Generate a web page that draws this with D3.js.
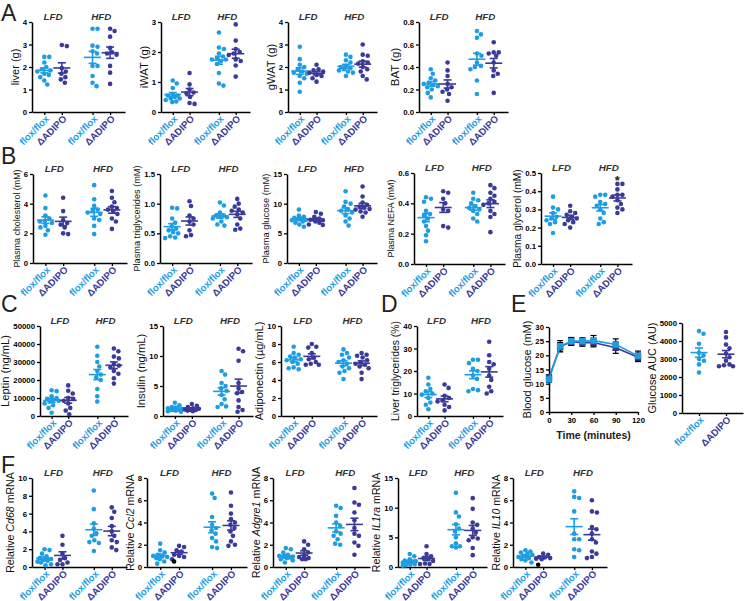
<!DOCTYPE html>
<html><head><meta charset="utf-8">
<script src="https://cdn.jsdelivr.net/npm/d3@7"></script>
<style>
body{margin:0;background:#fff;}
svg text{font-family:"Liberation Sans",Arial,sans-serif;}
</style></head><body>
<svg id="fig" width="745" height="601"></svg>
<script>
const genotypes = ["flox/flox","ΔADIPO","flox/flox","ΔADIPO"];
const diets = ["LFD","HFD"];
const FLOX = "#1E9DE2", DELTA = "#3B3A99";

// ---- Panel A ----
const liver = [
 [2.45,2.45,2.2,2.0,1.9,1.85,1.8,1.7,1.65,1.55,1.4,1.22],
 [2.98,2.93,1.95,1.8,1.7,1.55,1.45,1.3],
 [3.7,3.7,2.95,2.9,2.7,2.6,2.05,2.05,1.6,1.3,1.15],
 [3.7,3.6,3.35,2.85,2.65,2.6,2.55,2.05,1.75,1.25]];
const iwat = [
 [1.05,0.95,0.8,0.6,0.55,0.55,0.5,0.45,0.45,0.4,0.35,0.33],
 [1.3,0.92,0.75,0.65,0.62,0.5,0.3,0.27],
 [2.65,2.15,2.1,1.95,1.85,1.8,1.75,1.75,1.7,1.6,1.3,0.95,0.88],
 [2.92,2.38,2.1,2.0,1.95,1.9,1.75,1.7,1.55,1.18]];
const gwat = [
 [2.9,2.35,2.1,2.0,1.9,1.8,1.75,1.7,1.6,1.5,1.3,0.9],
 [2.1,1.9,1.85,1.8,1.75,1.65,1.6,1.5,1.35],
 [2.55,2.45,2.3,2.2,2.05,2.0,1.95,1.9,1.85,1.8,1.75,1.6],
 [3.0,2.55,2.5,2.25,2.2,2.15,2.0,1.9,1.8,1.6,1.45]];
const bat = [
 [0.38,0.34,0.3,0.28,0.26,0.25,0.24,0.23,0.22,0.2,0.17,0.13],
 [0.44,0.37,0.32,0.25,0.22,0.2,0.18,0.16,0.1],
 [0.72,0.69,0.66,0.52,0.5,0.44,0.41,0.4,0.38,0.28,0.16],
 [0.62,0.53,0.53,0.52,0.5,0.44,0.37,0.34,0.32,0.17]];
// ---- Panel B ----
const chol = [
 [4.55,3.7,3.2,3.0,2.85,2.8,2.7,2.5,2.4,2.2,1.9],
 [4.4,3.5,2.9,2.7,2.6,2.4,2.0,1.95],
 [5.25,4.3,3.85,3.6,3.5,3.4,3.3,3.0,2.9,2.5,1.95],
 [4.85,4.4,4.1,3.8,3.7,3.6,3.5,3.3,3.0,2.8,2.3]];
const tg = [
 [0.93,0.92,0.75,0.68,0.62,0.58,0.55,0.52,0.5,0.45,0.43,0.42],
 [1.04,0.96,0.8,0.75,0.7,0.65,0.55,0.47,0.45],
 [1.02,0.97,0.85,0.8,0.8,0.78,0.77,0.75,0.7,0.65,0.63],
 [1.08,1.0,0.95,0.9,0.88,0.85,0.82,0.75,0.65,0.58,0.56]];
const glu = [
 [9.0,8.0,7.8,7.6,7.5,7.4,7.3,7.2,7.0,6.8,6.5,6.1],
 [8.6,8.3,7.8,7.5,7.3,7.2,7.0,6.8,6.5,6.4],
 [12.1,10.3,10.0,9.5,9.0,8.8,8.5,8.0,7.5,7.0,6.3],
 [12.9,11.2,10.2,9.8,9.5,9.3,9.1,9.0,8.7,8.5,7.8]];
const nefa = [
 [0.44,0.43,0.41,0.35,0.33,0.32,0.3,0.28,0.25,0.22,0.19,0.15],
 [0.48,0.47,0.43,0.4,0.36,0.35,0.25,0.24],
 [0.47,0.43,0.42,0.4,0.38,0.37,0.36,0.35,0.33,0.3,0.28],
 [0.52,0.5,0.47,0.45,0.43,0.41,0.4,0.39,0.35,0.33,0.31,0.21]];
const glycerol = [
 [0.37,0.31,0.3,0.28,0.26,0.25,0.24,0.23,0.22,0.17],
 [0.32,0.29,0.28,0.27,0.26,0.25,0.24,0.23,0.22,0.2],
 [0.38,0.38,0.37,0.34,0.33,0.32,0.3,0.28,0.25,0.23,0.22],
 [0.44,0.44,0.41,0.38,0.38,0.37,0.35,0.33,0.31,0.3,0.28]];
// ---- Panel C ----
const leptin = [
 [14300,13800,11000,10000,9500,9000,8500,8000,7000,6000,4500,1800],
 [17000,14000,12500,10000,9500,8500,7000,4500,3000,1000],
 [38500,33500,30000,27500,25000,23000,21500,20000,15000,11000,8000],
 [37500,36000,33000,32000,29000,28000,27000,25000,23500,21000,18000]];
const insulin = [
 [2.2,1.8,1.5,1.4,1.3,1.2,1.1,1.0,1.0,0.9,0.8,0.7],
 [2.0,1.7,1.5,1.3,1.2,1.1,1.0,1.0,0.9,0.8],
 [7.5,6.9,5.5,5.0,4.6,4.2,3.5,2.8,2.0,1.6,1.5],
 [11.2,10.8,9.2,5.5,4.6,4.0,3.8,2.6,1.5,1.0,0.7]];
const adipo = [
 [7.7,7.0,6.8,6.6,6.5,6.3,6.2,6.0,5.8,5.4,5.3,5.2],
 [8.0,7.7,7.6,7.0,6.5,6.3,6.0,5.8,5.7,5.7],
 [7.4,7.0,6.8,6.5,6.2,6.0,5.8,5.5,5.3,5.0,4.8,4.1],
 [7.0,6.8,6.7,6.5,6.2,6.0,5.8,5.7,5.5,5.3,4.8,4.1]];
// ---- Panel D ----
const liverTG = [
 [17,14,12,11,10,9.5,8,6,5,3],
 [14,12.5,9,8,7,6.5,5,4,2.5],
 [25,25,23.5,21,20,18,16.5,12,11.5,11],
 [33,27,24,23,21,18,16,13,11,10]];
// ---- Panel E ----
const gttTime = [0,15,30,45,60,90,120];
const gttFlox = [11.5,23.2,25.0,25.0,25.2,23.8,19.8];
const gttFloxSem = [1.0,2.0,1.3,1.2,1.8,2.0,1.7];
const gttDelta = [12.2,23.0,24.8,24.5,24.5,22.7,19.3];
const gttDeltaSem = [1.0,1.5,1.3,1.3,1.5,2.0,1.5];
const gttTicksX = [0,30,60,90,120];
const gttTicksY = [0,5,10,15,20,25,30];
const auc = [
 [4550,4400,3850,3350,3200,3000,2900,2700,2250],
 [4500,4200,3800,3600,3300,3100,2900,2700,2650,2600,2600]];
// ---- Panel F ----
const cd68 = [
 [2.0,1.9,1.5,1.2,1.0,0.9,0.8,0.7,0.6,0.5,0.3,0.2],
 [3.5,2.5,1.5,1.0,0.8,0.5,0.3,0.3],
 [8.6,6.5,4.9,4.3,3.8,3.5,3.0,2.8,2.7,1.8],
 [6.7,6.2,5.5,4.6,4.0,3.5,3.0,2.8,2.2,1.9]];
const ccl2 = [
 [2.1,1.5,1.3,1.1,1.0,0.95,0.9,0.8,0.7,0.5,0.3],
 [1.9,1.8,1.5,1.4,1.1,1.0,0.9,0.7],
 [6.6,6.2,4.5,3.8,3.5,3.3,3.0,2.6,2.3,1.8,1.7],
 [6.7,5.5,4.8,4.3,4.0,3.8,3.5,3.2,2.8,2.3,2.0,1.9]];
const adgre1 = [
 [1.7,1.6,1.3,1.1,1.0,0.95,0.9,0.85,0.8,0.7,0.6,0.4],
 [2.3,2.0,1.6,1.3,1.0,0.9,0.8,0.7,0.7],
 [5.5,5.3,4.6,4.0,3.7,3.2,3.0,2.8,2.5,2.1,2.0],
 [7.1,5.8,5.6,4.9,4.2,3.5,3.0,2.8,2.2,1.9,1.1]];
const il1ra = [
 [2.2,1.8,1.3,1.1,1.0,0.9,0.8,0.7,0.5,0.4,0.3,0.2],
 [3.5,2.2,1.8,1.5,1.3,1.0,0.6,0.5,0.5],
 [12.5,9.2,8.5,7.2,6.5,6.0,5.0,4.0,3.5,3.5,3.3],
 [11.6,9.8,7.5,7.1,6.5,5.8,5.0,4.8,4.5,3.2,2.0]];
const il10 = [
 [1.5,1.4,1.3,1.2,1.1,1.0,0.9,0.8,0.7,0.6,0.4],
 [1.2,1.1,0.9,0.85,0.8,0.75,0.7],
 [6.8,6.3,6.2,5.0,3.0,2.5,2.5,1.6,1.5,0.9],
 [6.0,5.0,4.9,3.6,3.4,3.0,2.5,2.2,1.4,1.2,0.9,0.8]];
// black (excluded) points
const blackDots = [{panel:"ccl2", group:1, value:0.5}, {panel:"il10", group:1, value:0.2}];
const stars = [{panel:"glycerol", group:3}];

const svg = d3.select("#fig");

const panels = [
 {id:"liver", data:liver, label:"liver (g)", ticks:[0,1,2,3,4], fmt:"d", x0:32,x1:125,top:22,bottom:112, lfs:11},
 {id:"iwat", data:iwat, label:"iWAT (g)", ticks:[0,1,2,3], fmt:"d", x0:161,x1:250,top:22,bottom:112, lfs:11.2},
 {id:"gwat", data:gwat, label:"gWAT (g)", ticks:[0,1,2,3,4], fmt:"d", x0:288,x1:377,top:22,bottom:112, lfs:11.2},
 {id:"bat", data:bat, label:"BAT (g)", ticks:[0,0.2,0.4,0.6,0.8], fmt:".1f", x0:419,x1:508,top:22,bottom:112, lfs:11.5},
 {id:"chol", data:chol, label:"Plasma cholesterol (mM)", ticks:[0,2,4,6], fmt:"d", x0:33,x1:127,top:174,bottom:263, lfs:8.9},
 {id:"tg", data:tg, label:"Plasma triglycerides (mM)", ticks:[0,0.5,1.0,1.5], fmt:".1f", x0:160,x1:252,top:174,bottom:263, lfs:9.2},
 {id:"glu", data:glu, label:"Plasma glucose (mM)", ticks:[0,5,10,15], fmt:"d", x0:287,x1:377,top:174,bottom:263, lfs:9.3},
 {id:"nefa", data:nefa, label:"Plasma NEFA (mM)", ticks:[0,0.2,0.4,0.6], fmt:".1f", x0:414,x1:505,top:173,bottom:264, lfs:8.9},
 {id:"glycerol", data:glycerol, label:"Plasma glycerol (mM)", ticks:[0,0.1,0.2,0.3,0.4,0.5], fmt:".1f", x0:541,x1:632,top:173,bottom:264, lfs:10.2},
 {id:"leptin", data:leptin, label:"Leptin (ng/mL)", ticks:[0,10000,20000,30000,40000,50000], fmt:"d", x0:40,x1:128,top:326,bottom:416, lfs:11.2},
 {id:"insulin", data:insulin, label:"Insulin (ng/mL)", ticks:[0,5,10,15], fmt:"d", x0:163,x1:253,top:326,bottom:416, lfs:11.3},
 {id:"adipo", data:adipo, label:"Adiponectin (µg/mL)", ticks:[0,2,4,6,8,10], fmt:"d", x0:281,x1:377,top:326,bottom:416, lfs:11},
 {id:"livertg", data:liverTG, label:"Liver triglycerides (%)", ticks:[0,10,20,30,40], fmt:"d", x0:417,x1:503,top:326,bottom:416, lfs:10.4},
 {id:"auc", data:auc, label:"Glucose AUC (AU)", ticks:[0,1000,2000,3000,4000,5000], fmt:"d", x0:682,x1:743,top:323,bottom:413, lfs:10.9},
 {id:"cd68", data:cd68, label:"Relative *Cd68* mRNA", ticks:[0,2,4,6,8,10], fmt:"d", x0:32,x1:127,top:478,bottom:567, lfs:10.6},
 {id:"ccl2", data:ccl2, label:"Relative *Ccl2* mRNA", ticks:[0,2,4,6,8], fmt:"d", x0:147,x1:247,top:478,bottom:567, lfs:10.6},
 {id:"adgre1", data:adgre1, label:"Relative *Adgre1* mRNA", ticks:[0,2,4,6,8], fmt:"d", x0:273,x1:370,top:478,bottom:567, lfs:10.8},
 {id:"il1ra", data:il1ra, label:"Relative *IL1ra* mRNA", ticks:[0,5,10,15], fmt:"d", x0:398,x1:487,top:478,bottom:567, lfs:10.6},
 {id:"il10", data:il10, label:"Relative *IL10* mRNA", ticks:[0,2,4,6,8], fmt:"d", x0:513,x1:607,top:478,bottom:567, lfs:10.6}
];

const letters = [["A",1,21],["B",1,164],["C",1,312],["D",381,312],["E",511,312],["F",1,473]];
letters.forEach(([t,x,y])=>svg.append("text").attr("x",x).attr("y",y).attr("font-size",23).attr("fill","#222").text(t));

function styleAxis(a){
  a.select(".domain").attr("stroke","#000").attr("stroke-width",1.5);
  a.selectAll(".tick line").attr("stroke","#000").attr("stroke-width",1.3);
  a.selectAll(".tick text").attr("font-size",7.8).attr("font-weight","bold").attr("fill","#000");
}

function yLabel(g, p, tickW){
  const bx = p.x0 - 3 - 2 - tickW - 4;
  const cy = (p.top + p.bottom)/2;
  const t = g.append("text").attr("transform",`translate(${bx},${cy}) rotate(-90)`)
    .attr("text-anchor","middle").attr("font-size",p.lfs).attr("fill","#111");
  p.label.split("*").forEach((s,i)=>{ if(s) t.append("tspan").attr("font-style", i%2 ? "italic":"normal").text(s); });
}

function swarm(vals, y, r, maxOff){
  const placed = [];
  const sorted = vals.slice().sort((a,b)=>b-a);
  const need = (2*r+0.3)**2;
  for(const v of sorted){
    const py = y(v);
    let best = 0, bestD = -1;
    for(let k=0;k<200;k++){
      const c = k===0 ? 0 : (k%2 ? 1 : -1) * Math.ceil(k/2) * 0.5;
      if(Math.abs(c) > maxOff) break;
      const dmin = placed.length ? d3.min(placed, q => (q.x-c)**2 + (q.y-py)**2) : Infinity;
      if(dmin >= need){ best = c; bestD = dmin; break; }
      if(dmin > bestD){ bestD = dmin; best = c; }
    }
    placed.push({x:best, y:py, v});
  }
  return placed;
}

function drawCat(p){
  const g = svg.append("g");
  const n = p.data.length;
  const y = d3.scaleLinear().domain([p.ticks[0], p.ticks[p.ticks.length-1]]).range([p.bottom, p.top]);
  const pos = n===4 ? [0,1,2.75,3.75] : [0,1];
  const x = d3.scaleLinear().domain(n===4 ? [-0.7,4.6] : [-0.63,1.63]).range([p.x0, p.x1]);
  const ya = g.append("g").attr("transform",`translate(${p.x0},0)`)
    .call(d3.axisLeft(y).tickValues(p.ticks).tickFormat(d3.format(p.fmt)).tickSize(3).tickSizeOuter(0).tickPadding(2));
  styleAxis(ya);
  const tickW = d3.max(ya.selectAll(".tick text").nodes(), nd => nd.getComputedTextLength());
  yLabel(g, p, tickW);
  const xa = g.append("g").attr("transform",`translate(0,${p.bottom})`)
    .call(d3.axisBottom(x).tickValues(pos).tickFormat((d,i)=>genotypes[i]).tickSize(3).tickSizeOuter(0));
  styleAxis(xa);
  xa.selectAll(".tick text").attr("font-size",9.7).attr("y",0).attr("dy","0.35em")
    .attr("transform","translate(2.5,5) rotate(-45)").attr("text-anchor","end")
    .attr("fill",(d,i)=> i%2 ? DELTA : FLOX);
  if(n===4){
    [0.5,3.25].forEach((c,i)=> g.append("text").attr("x",x(c)).attr("y",p.top-2)
      .attr("text-anchor","middle").attr("font-size",9.8).attr("font-weight","bold")
      .attr("font-style","italic").attr("fill","#333").text(diets[i]));
  }
  p.data.forEach((vals,i)=>{
    const col = i%2 ? DELTA : FLOX;
    const cx = x(pos[i]);
    swarm(vals, y, 2.3, 7).forEach(pt=> g.append("circle").attr("cx",cx+pt.x).attr("cy",pt.y).attr("r",2.3).attr("fill",col));
    blackDots.filter(b=>b.panel===p.id && b.group===i).forEach(b=>
      g.append("circle").attr("cx",cx-5).attr("cy",y(b.value)).attr("r",2.3).attr("fill","#000"));
    const m = d3.mean(vals), se = d3.deviation(vals)/Math.sqrt(vals.length);
    g.append("line").attr("x1",cx-8.5).attr("x2",cx+8.5).attr("y1",y(m)).attr("y2",y(m)).attr("stroke",col).attr("stroke-width",1.6);
    g.append("line").attr("x1",cx).attr("x2",cx).attr("y1",y(m-se)).attr("y2",y(m+se)).attr("stroke",col).attr("stroke-width",1.6);
    [m-se,m+se].forEach(v=> g.append("line").attr("x1",cx-4).attr("x2",cx+4).attr("y1",y(v)).attr("y2",y(v)).attr("stroke",col).attr("stroke-width",1.6));
    stars.filter(s=>s.panel===p.id && s.group===i).forEach(()=>
      g.append("text").attr("x",cx).attr("y",y(d3.max(vals))+1).attr("text-anchor","middle")
        .attr("font-size",13).attr("font-weight","bold").attr("fill","#222").text("*"));
  });
}
panels.forEach(drawCat);

// ---- GTT line chart ----
(function(){
  const p = {x0:549, x1:638, top:327, bottom:412, label:"Blood glucose (mM)", lfs:11};
  const g = svg.append("g");
  const x = d3.scaleLinear().domain([0,120]).range([p.x0, p.x1]);
  const y = d3.scaleLinear().domain([0,30]).range([p.bottom, p.top]);
  const ya = g.append("g").attr("transform",`translate(${p.x0},0)`)
    .call(d3.axisLeft(y).tickValues(gttTicksY).tickSize(3).tickSizeOuter(0).tickPadding(2));
  styleAxis(ya);
  const tickW = d3.max(ya.selectAll(".tick text").nodes(), nd => nd.getComputedTextLength());
  yLabel(g, p, tickW);
  const xa = g.append("g").attr("transform",`translate(0,${p.bottom})`)
    .call(d3.axisBottom(x).tickValues(gttTicksX).tickSize(3).tickSizeOuter(0).tickPadding(2));
  styleAxis(xa);
  g.append("text").attr("x",(p.x0+p.x1)/2).attr("y",439).attr("text-anchor","middle")
    .attr("font-size",10.5).attr("font-weight","bold").attr("fill","#222").text("Time (minutes)");
  const series = [[gttDelta,gttDeltaSem,DELTA],[gttFlox,gttFloxSem,FLOX]];
  series.forEach(([m,se])=>{
    gttTime.forEach((t,i)=>{
      g.append("line").attr("x1",x(t)).attr("x2",x(t)).attr("y1",y(m[i]-se[i])).attr("y2",y(m[i]+se[i])).attr("stroke","#000").attr("stroke-width",1.2);
      [m[i]-se[i], m[i]+se[i]].forEach(v=> g.append("line").attr("x1",x(t)-3).attr("x2",x(t)+3).attr("y1",y(v)).attr("y2",y(v)).attr("stroke","#000").attr("stroke-width",1.2));
    });
  });
  series.forEach(([m,se,col])=>{
    g.append("path").datum(gttTime.map((t,i)=>[t,m[i]]))
      .attr("d", d3.line().x(d=>x(d[0])).y(d=>y(d[1]))).attr("fill","none").attr("stroke",col).attr("stroke-width",1.6);
    gttTime.forEach((t,i)=> g.append("rect").attr("x",x(t)-3.2).attr("y",y(m[i])-3.2).attr("width",6.4).attr("height",6.4).attr("fill",col));
  });
})();
</script>
</body></html>
